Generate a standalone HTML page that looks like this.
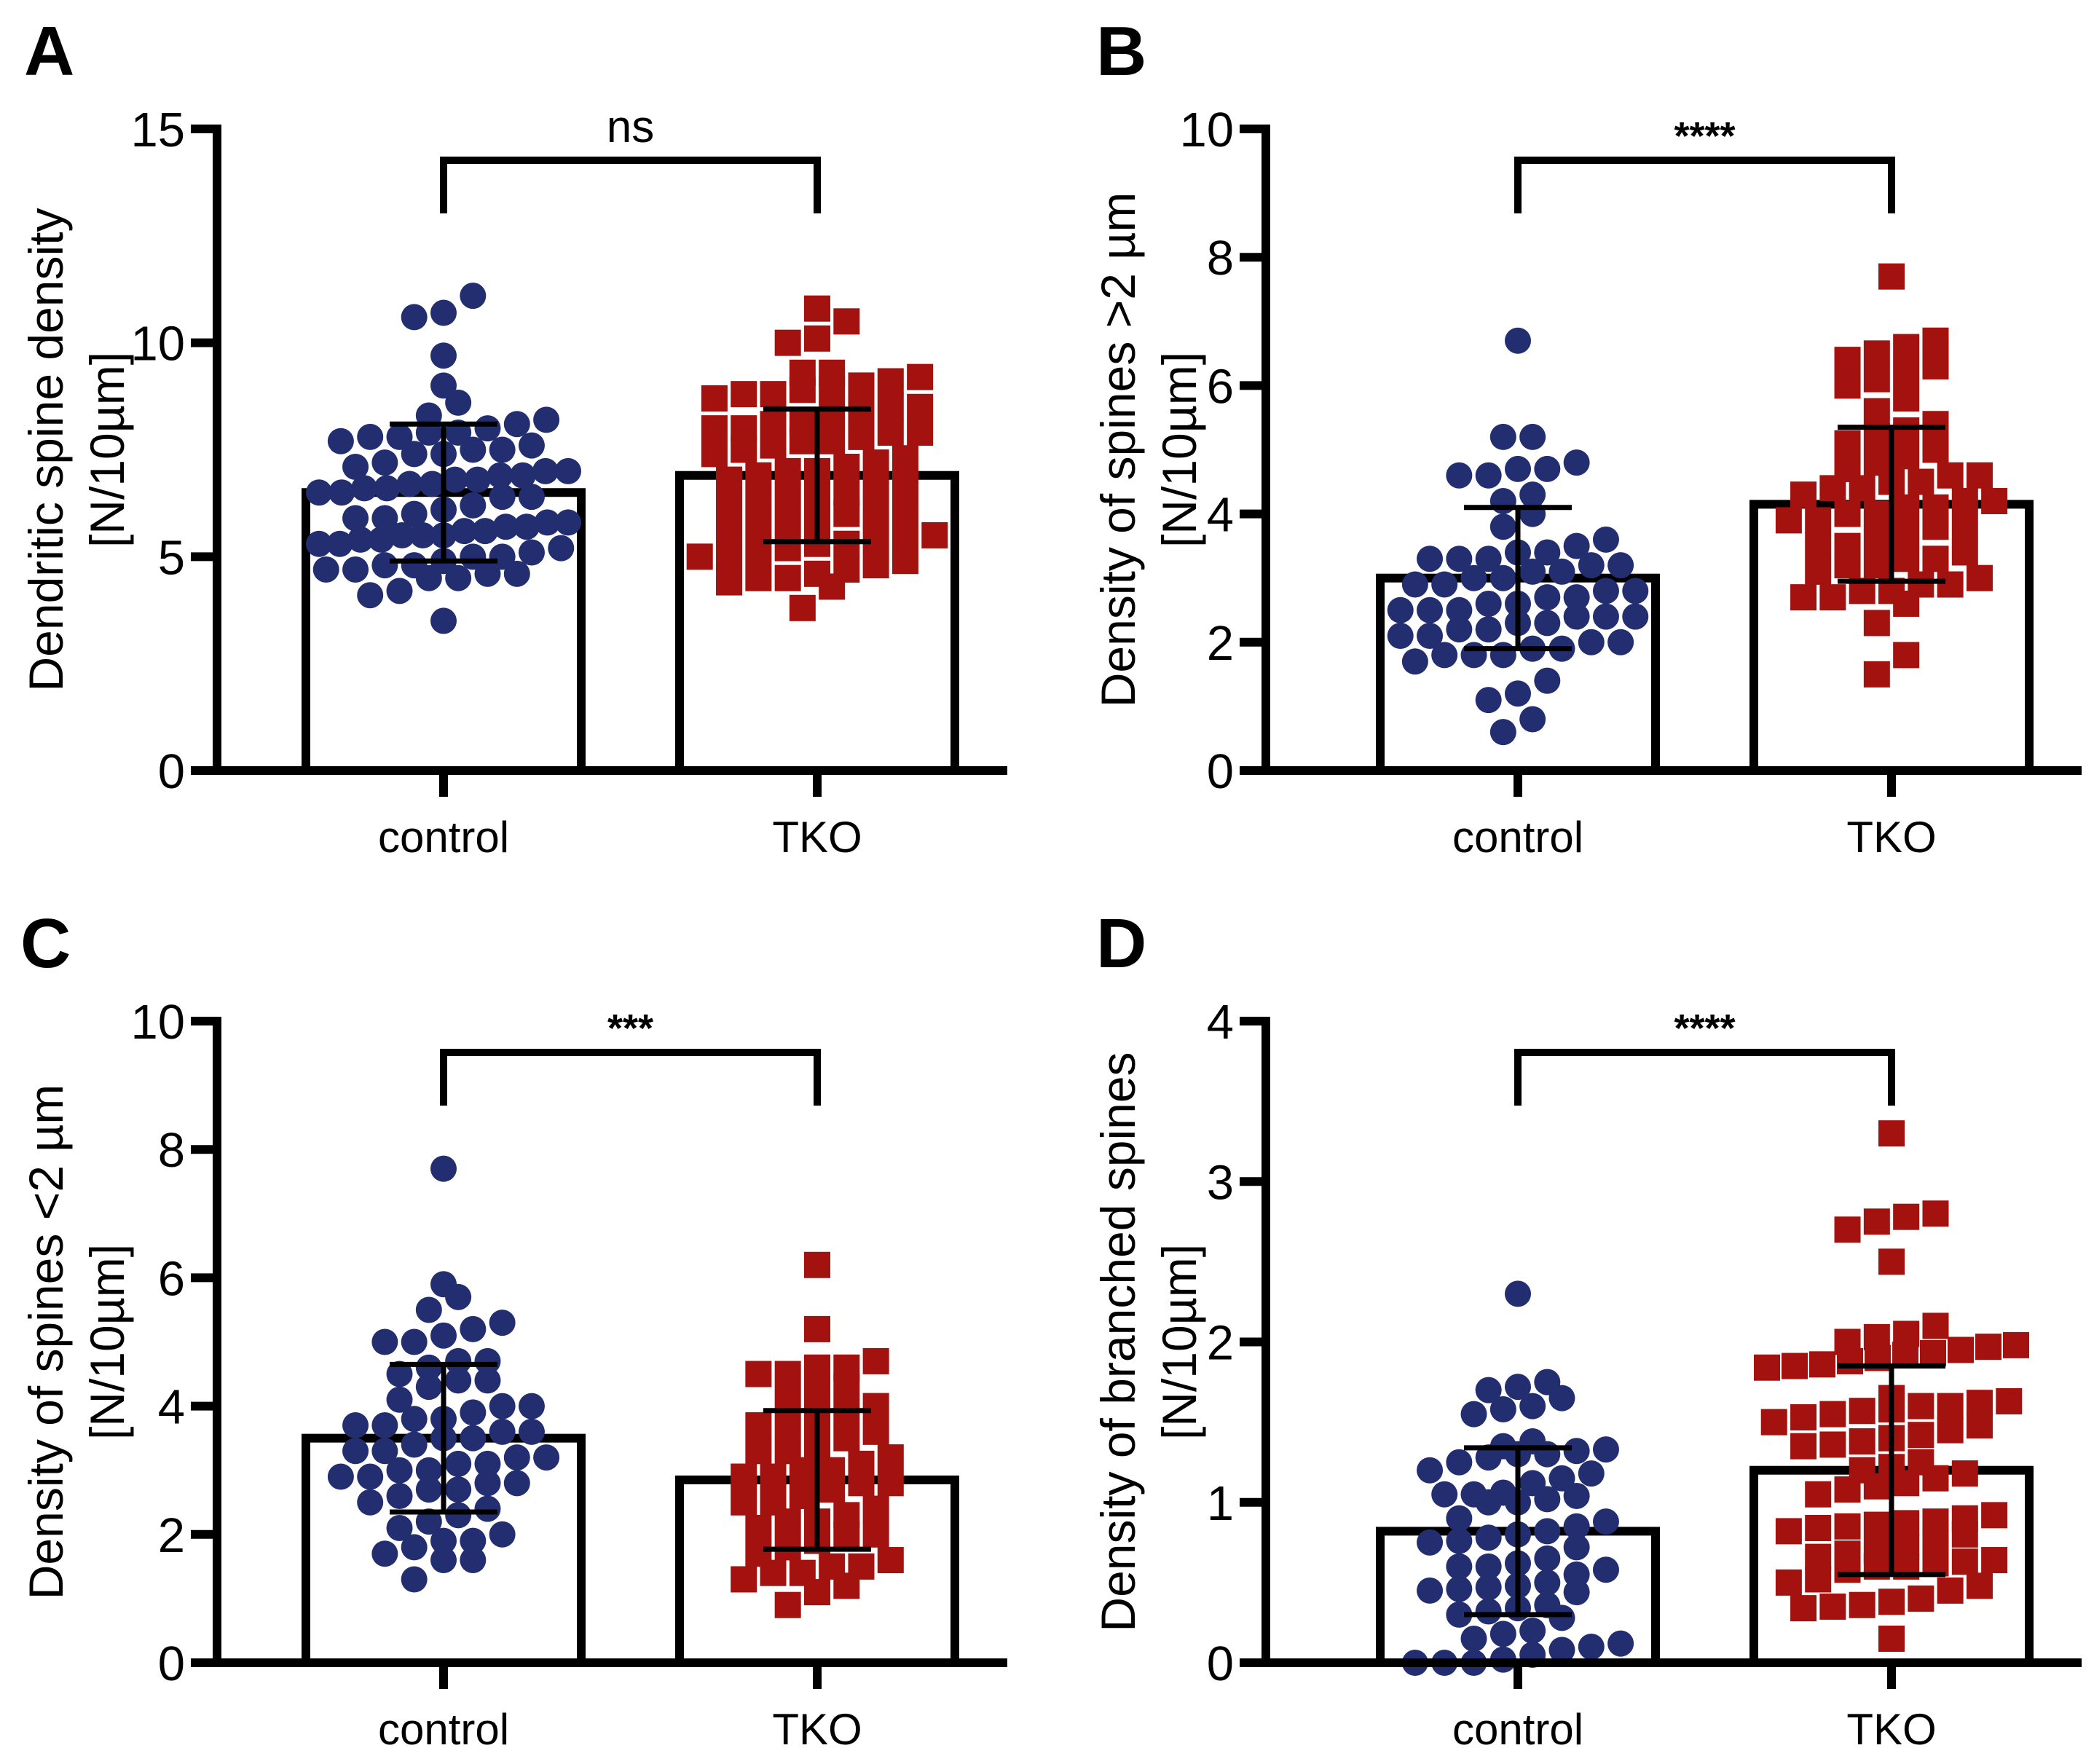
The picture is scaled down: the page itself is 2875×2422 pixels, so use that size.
<!DOCTYPE html>
<html><head><meta charset="utf-8">
<style>
html,body{margin:0;padding:0;background:#fff;}
svg{display:block;font-family:"Liberation Sans",Arial,sans-serif;}
</style></head>
<body>
<svg id="fig" width="2875" height="2422" viewBox="0 0 2875 2422" xmlns="http://www.w3.org/2000/svg"></svg>
<script>
const categories = ["control","TKO"];
const panelLetters = ["A","B","C","D"];
const yTitles1 = ["Dendritic spine density","Density of spines >2 µm","Density of spines <2 µm","Density of branched spines"];
const yTitle2 = "[N/10µm]";
const sigLabels = ["ns","****","***","****"];
const yMax = [15,10,10,4];
const yTicksA = [0,5,10,15];
const yTicksB = [0,2,4,6,8,10];
const yTicksC = [0,2,4,6,8,10];
const yTicksD = [0,1,2,3,4];
const meansA = [6.5,6.9];
const sdA = [1.6,1.55];
const meansB = [3.0,4.15];
const sdB = [1.1,1.2];
const meansC = [3.5,2.85];
const sdC = [1.15,1.08];
const meansD = [0.82,1.2];
const sdD = [0.52,0.65];
const ctrlA = [11.1,10.7,10.6,9.7,9.0,8.6,8.3,8.2,8.1,8.0,7.9,7.9,7.8,7.8,7.7,7.6,7.5,7.5,7.4,7.4,7.2,7.1,7.0,7.0,6.9,6.9,6.8,6.8,6.7,6.7,6.6,6.6,6.5,6.5,6.4,6.4,6.2,6.1,6.0,5.9,5.9,5.8,5.8,5.7,5.7,5.6,5.6,5.5,5.5,5.5,5.4,5.4,5.3,5.3,5.2,5.1,5.0,5.0,4.9,4.8,4.8,4.7,4.7,4.6,4.6,4.5,4.5,4.2,4.1,3.5];
const tkoA = [10.8,10.5,10.1,10.0,9.3,9.3,9.2,9.1,9.0,8.9,8.9,8.8,8.8,8.7,8.5,8.5,8.4,8.3,8.2,8.1,8.0,8.0,7.9,7.9,7.8,7.7,7.7,7.6,7.5,7.4,7.3,7.2,7.1,7.0,7.0,6.9,6.8,6.7,6.6,6.5,6.5,6.4,6.3,6.2,6.1,6.0,6.0,5.9,5.8,5.7,5.6,5.5,5.5,5.4,5.3,5.3,5.2,5.1,5.0,5.0,4.9,4.8,4.7,4.6,4.5,4.5,4.4,4.3,3.8];
const ctrlB = [6.7,5.2,5.2,4.8,4.7,4.7,4.6,4.6,4.3,4.2,4.0,3.8,3.6,3.5,3.4,3.4,3.3,3.3,3.3,3.2,3.2,3.1,3.1,3.0,3.0,2.9,2.9,2.8,2.8,2.7,2.7,2.6,2.6,2.5,2.5,2.5,2.4,2.4,2.4,2.3,2.3,2.2,2.2,2.1,2.1,2.0,2.0,1.9,1.9,1.8,1.8,1.8,1.7,1.4,1.2,1.1,0.8,0.6];
const tkoB = [7.7,6.7,6.6,6.5,6.4,6.3,6.2,6.1,6.0,5.8,5.6,5.4,5.3,5.2,5.1,5.0,4.9,4.8,4.7,4.6,4.6,4.5,4.5,4.4,4.4,4.3,4.2,4.2,4.1,4.1,4.0,4.0,3.9,3.9,3.8,3.8,3.7,3.6,3.5,3.5,3.4,3.3,3.3,3.2,3.2,3.1,3.0,2.9,2.9,2.8,2.8,2.7,2.7,2.6,2.3,1.8,1.5];
const ctrlC = [7.7,5.9,5.7,5.5,5.3,5.2,5.1,5.0,5.0,4.7,4.7,4.6,4.5,4.4,4.4,4.3,4.1,4.0,4.0,3.9,3.8,3.8,3.7,3.7,3.6,3.6,3.5,3.5,3.4,3.3,3.3,3.2,3.2,3.1,3.1,3.0,3.0,2.9,2.9,2.8,2.8,2.7,2.7,2.6,2.5,2.4,2.3,2.2,2.1,2.0,1.9,1.9,1.8,1.7,1.6,1.6,1.3];
const tkoC = [6.2,5.2,4.7,4.6,4.6,4.5,4.5,4.3,4.2,4.1,4.0,3.9,3.8,3.7,3.7,3.6,3.5,3.4,3.3,3.3,3.2,3.1,3.0,3.0,2.9,2.9,2.8,2.8,2.7,2.6,2.5,2.5,2.4,2.3,2.2,2.2,2.1,2.0,2.0,1.9,1.8,1.7,1.6,1.5,1.5,1.4,1.4,1.3,1.2,1.1,0.9];
const ctrlD = [2.3,1.75,1.72,1.7,1.65,1.6,1.58,1.55,1.38,1.35,1.33,1.32,1.3,1.3,1.28,1.25,1.2,1.18,1.15,1.12,1.06,1.05,1.05,1.04,1.02,1.0,1.0,0.9,0.88,0.85,0.82,0.8,0.78,0.76,0.75,0.72,0.65,0.62,0.6,0.6,0.58,0.55,0.5,0.48,0.47,0.46,0.45,0.44,0.36,0.34,0.32,0.3,0.28,0.2,0.18,0.15,0.12,0.1,0.08,0.05,0.02,0,0,0];
const tkoD = [3.3,2.8,2.78,2.75,2.7,2.5,2.1,2.05,2.03,2.0,1.98,1.97,1.95,1.93,1.92,1.9,1.88,1.86,1.85,1.84,1.65,1.63,1.62,1.6,1.6,1.58,1.57,1.55,1.53,1.5,1.48,1.45,1.42,1.4,1.38,1.36,1.35,1.25,1.22,1.2,1.18,1.15,1.12,1.1,1.08,1.05,0.92,0.9,0.88,0.87,0.86,0.85,0.84,0.82,0.8,0.78,0.72,0.7,0.68,0.66,0.64,0.63,0.62,0.6,0.6,0.58,0.52,0.5,0.48,0.45,0.4,0.38,0.36,0.35,0.34,0.15];

const panels = [
 {ticks:yTicksA, means:meansA, sd:sdA, data:[ctrlA,tkoA]},
 {ticks:yTicksB, means:meansB, sd:sdB, data:[ctrlB,tkoB]},
 {ticks:yTicksC, means:meansC, sd:sdC, data:[ctrlC,tkoC]},
 {ticks:yTicksD, means:meansD, sd:sdD, data:[ctrlD,tkoD]}
];
const offsets = [[0,0],[1475,0],[0,1225],[1475,1225]];
const letterX = [33,30,28,30];
const NS = "http://www.w3.org/2000/svg";
const svg = document.getElementById('fig');
function mk(tag, attrs, parent){const e=document.createElementNS(NS,tag);for(const k in attrs)e.setAttribute(k,attrs[k]);(parent||svg).appendChild(e);return e;}
const BLUE="#232e70", RED="#a3120f";
const DIAM=36;

panels.forEach((p,pi)=>{
  const [dx,dy]=offsets[pi];
  const g=mk('g',{transform:`translate(${dx},${dy})`});
  
  
  const axX=298-(pi%2?35:0), top=177, bot=1058, xEnd=1383;
  const ys=v=>bot-(v/yMax[pi])*(bot-top);
  const xc=[609,1122];
  const hw=189;
  const L=mk('text',{x:letterX[pi],y:103,'font-size':96,'font-weight':'bold',fill:'#000'},g);
  L.textContent=panelLetters[pi];
  
  
  const tx=pi%2?-3:0;
  const t1=mk('text',{x:0,y:0,'font-size':66,'text-anchor':'middle',transform:`translate(${86+tx},${(top+bot)/2}) rotate(-90)`},g);
  t1.textContent=yTitles1[pi];
  
  
  const t2=mk('text',{x:0,y:0,'font-size':66,'text-anchor':'middle',transform:`translate(${170+tx},${(top+bot)/2}) rotate(-90)`},g);
  t2.textContent=yTitle2;
  
  
  for(let i=0;i<2;i++){
    const r=mk('rect',{x:xc[i]-hw,y:ys(p.means[i]),width:2*hw,height:bot-ys(p.means[i]),fill:'#fff',stroke:'#000','stroke-width':12},g);
    
    
  }
  for(let i=0;i<2;i++){
    const vals=p.data[i].slice().sort((a,b)=>a-b);
    const rows=[];
    let cur=null;
    vals.forEach(v=>{
      const y=ys(v);
      if(!cur || cur.y0-y>DIAM*0.9){cur={y0:y,pts:[]};rows.push(cur);}
      cur.pts.push(v);
    });
    rows.forEach(row=>{
      const n=row.pts.length;
      const maxW=2*hw-DIAM;
      const sp=n>1?Math.min(DIAM*1.12,maxW/(n-1)):0;
      row.pts.forEach((v,j)=>{
        const x=xc[i]+(j-(n-1)/2)*sp;
        const y=ys(v);
        let m;
        if(i===0){m=mk('circle',{cx:x,cy:y,r:DIAM/2,fill:BLUE},g);}
        else{m=mk('rect',{x:x-DIAM/2,y:y-DIAM/2,width:DIAM,height:DIAM,fill:RED},g);}
        
        
      });
    });
  }
  for(let i=0;i<2;i++){
    const y1=ys(p.means[i]+p.sd[i]), y2=ys(p.means[i]-p.sd[i]);
    const eg=mk('g',{stroke:'#000','stroke-width':7},g);
    
    
    mk('line',{x1:xc[i],x2:xc[i],y1:y1,y2:y2},eg);
    mk('line',{x1:xc[i]-74,x2:xc[i]+74,y1:y1,y2:y1},eg);
    mk('line',{x1:xc[i]-74,x2:xc[i]+74,y1:y2,y2:y2},eg);
  }
  const ax=mk('g',{stroke:'#000','stroke-width':12,fill:'none'},g);
  
  
  mk('line',{x1:axX,x2:axX,y1:top-6,y2:bot+6},ax);
  mk('line',{x1:axX-6,x2:xEnd,y1:bot,y2:bot},ax);
  p.ticks.forEach(t=>{
    mk('line',{x1:axX-36,x2:axX,y1:ys(t),y2:ys(t)},ax);
    const tl=mk('text',{x:axX-44,y:ys(t)+24,'font-size':67,'text-anchor':'end',fill:'#000'},g);
    tl.textContent=t;
    
    
  });
  for(let i=0;i<2;i++){
    mk('line',{x1:xc[i],x2:xc[i],y1:bot,y2:bot+36},ax);
    const cl=mk('text',{x:xc[i],y:1170,'font-size':60,'text-anchor':'middle',fill:'#000'},g);
    cl.textContent=categories[i];
    
    
  }
  const br=mk('polyline',{points:`${xc[0]},293 ${xc[0]},220 ${xc[1]},220 ${xc[1]},293`,stroke:'#000','stroke-width':10,fill:'none'},g);
  
  
  const st=mk('text',{x:(xc[0]+xc[1])/2,y:pi===0?195:205,'font-size':pi===0?62:54,'font-weight':pi===0?'normal':'bold','text-anchor':'middle',fill:'#000'},g);
  st.textContent=sigLabels[pi];
  
  
});
</script>
</body></html>
